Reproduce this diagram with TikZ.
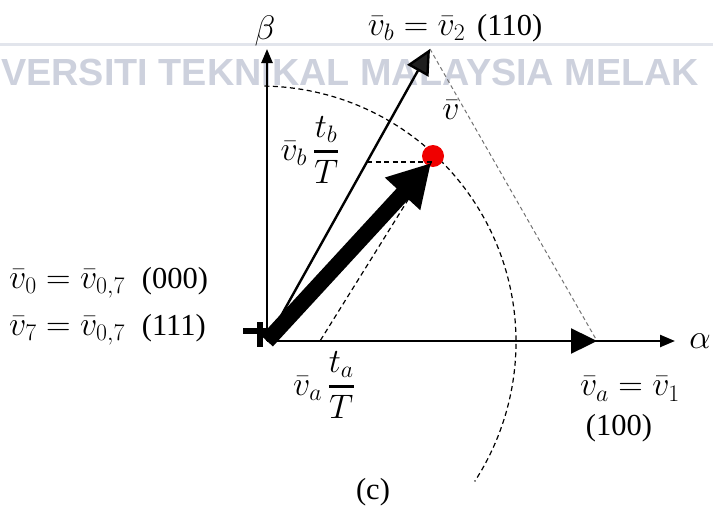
\RequirePackage{fix-cm}
\documentclass[tikz,border=0pt]{standalone}
\usepackage{amsmath}
\usepackage{fontspec}
\setmainfont{Liberation Serif}
\newfontfamily\wmfont{Liberation Sans}
\usetikzlibrary{arrows.meta}
\definecolor{wmtext}{RGB}{205,209,221}
\definecolor{wmline}{RGB}{226,229,236}
\definecolor{dotred}{RGB}{240,0,0}
\newcommand{\mth}[1]{{\fontsize{34}{40}\selectfont$#1$}}
\begin{document}
\begin{tikzpicture}[x=1pt,y=-1pt,
  lbl/.style={inner sep=0pt, font=\fontsize{30.5}{34}\selectfont},
  axisline/.style={line width=2.4pt},
  dashline/.style={line width=1.2pt, dash pattern=on 5pt off 3.5pt},
  hexline/.style={line width=1pt, draw=black!55, dash pattern=on 4pt off 3pt}]
\useasboundingbox (0,0) rectangle (713,506);
% watermark
\coordinate (hl1) at (0,44);
\coordinate (hl2) at (713,44);
\draw[line width=3pt, wmline] (hl1) -- (hl2);
\node[anchor=west, inner sep=0pt, text=wmtext, font=\wmfont\bfseries\fontsize{37.8}{40}\selectfont] (wm) at (1,72) {VERSITI TEKNIKAL MALAYSIA MELAK};
% coordinates
\coordinate (O) at (267,341);
\coordinate (Btip) at (267,49);
\coordinate (Atip) at (675,341);
\coordinate (Va) at (597,341);
\coordinate (Vb) at (430,49);
\coordinate (P) at (431,163);
\coordinate (Pb) at (367,162);
\coordinate (Pd) at (433,162);
\coordinate (Pa) at (320,341);
\coordinate (C) at (260,342);
\coordinate (D) at (433,156);
% arc
\draw[dashline] ([shift={(-89:256)}]C) arc[start angle=-89, end angle=33, radius=256];
% hexagon side
\draw[hexline] (Vb) -- (Va);
% red dot
\fill[dotred] (D) circle[radius=11];
% projections
\draw[dashline] (Pb) -- (Pd);
\draw[dashline] (P) -- (Pa);
% axes
\draw[axisline, -{Triangle[length=14pt,width=11pt]}] (O) -- (Btip);
\draw[axisline, -{Triangle[length=15pt,width=12pt]}] (O) -- (Atip);
\draw[axisline, -{Triangle[length=26pt,width=25pt]}] (O) -- (Va);
\draw[axisline, -{Triangle[length=25pt,width=24pt, fill=black!88]}] (O) -- (Vb);
% zero vector cross
\coordinate (c1) at (243,331);
\coordinate (c2) at (266,331);
\coordinate (c3) at (260,322);
\coordinate (c4) at (260,347);
\draw[line width=6pt] (c1) -- (c2);
\draw[line width=6pt] (c3) -- (c4);
% reference vector
\draw[line width=16pt, -{Triangle[length=42pt,width=45pt]}] (O) -- (P);
% labels
\node[lbl] (lbeta) at (265,31) {\mth{\beta}};
\node[lbl] (lvb2) at (455,28) {\mth{\bar{v}_b=\bar{v}_2}\hspace{12pt}(110)};
\node[lbl] (lv) at (451,110) {\mth{\bar{v}}};
\node[lbl] (lvbf) at (310,150) {\mth{\bar{v}_b\,\genfrac{}{}{2.5pt}{0}{t_b}{T}}};
\node[lbl] (lvaf) at (324,385) {\mth{\bar{v}_a\,\genfrac{}{}{2.5pt}{0}{t_a}{T}}};
\node[lbl] (lva1) at (630,389) {\mth{\bar{v}_a=\bar{v}_1}};
\node[lbl] (l100) at (619,428) {(100)};
\node[lbl] (lc) at (373,492) {(c)};
\node[lbl] (lalpha) at (700,341) {\mth{\alpha}};
\node[lbl, anchor=west] (l0) at (9,283) {\mth{\bar{v}_0=\bar{v}_{0,7}}\hspace{17pt}(000)};
\node[lbl, anchor=west] (l7) at (9,330) {\mth{\bar{v}_7=\bar{v}_{0,7}}\hspace{17pt}(111)};
\end{tikzpicture}
\end{document}
